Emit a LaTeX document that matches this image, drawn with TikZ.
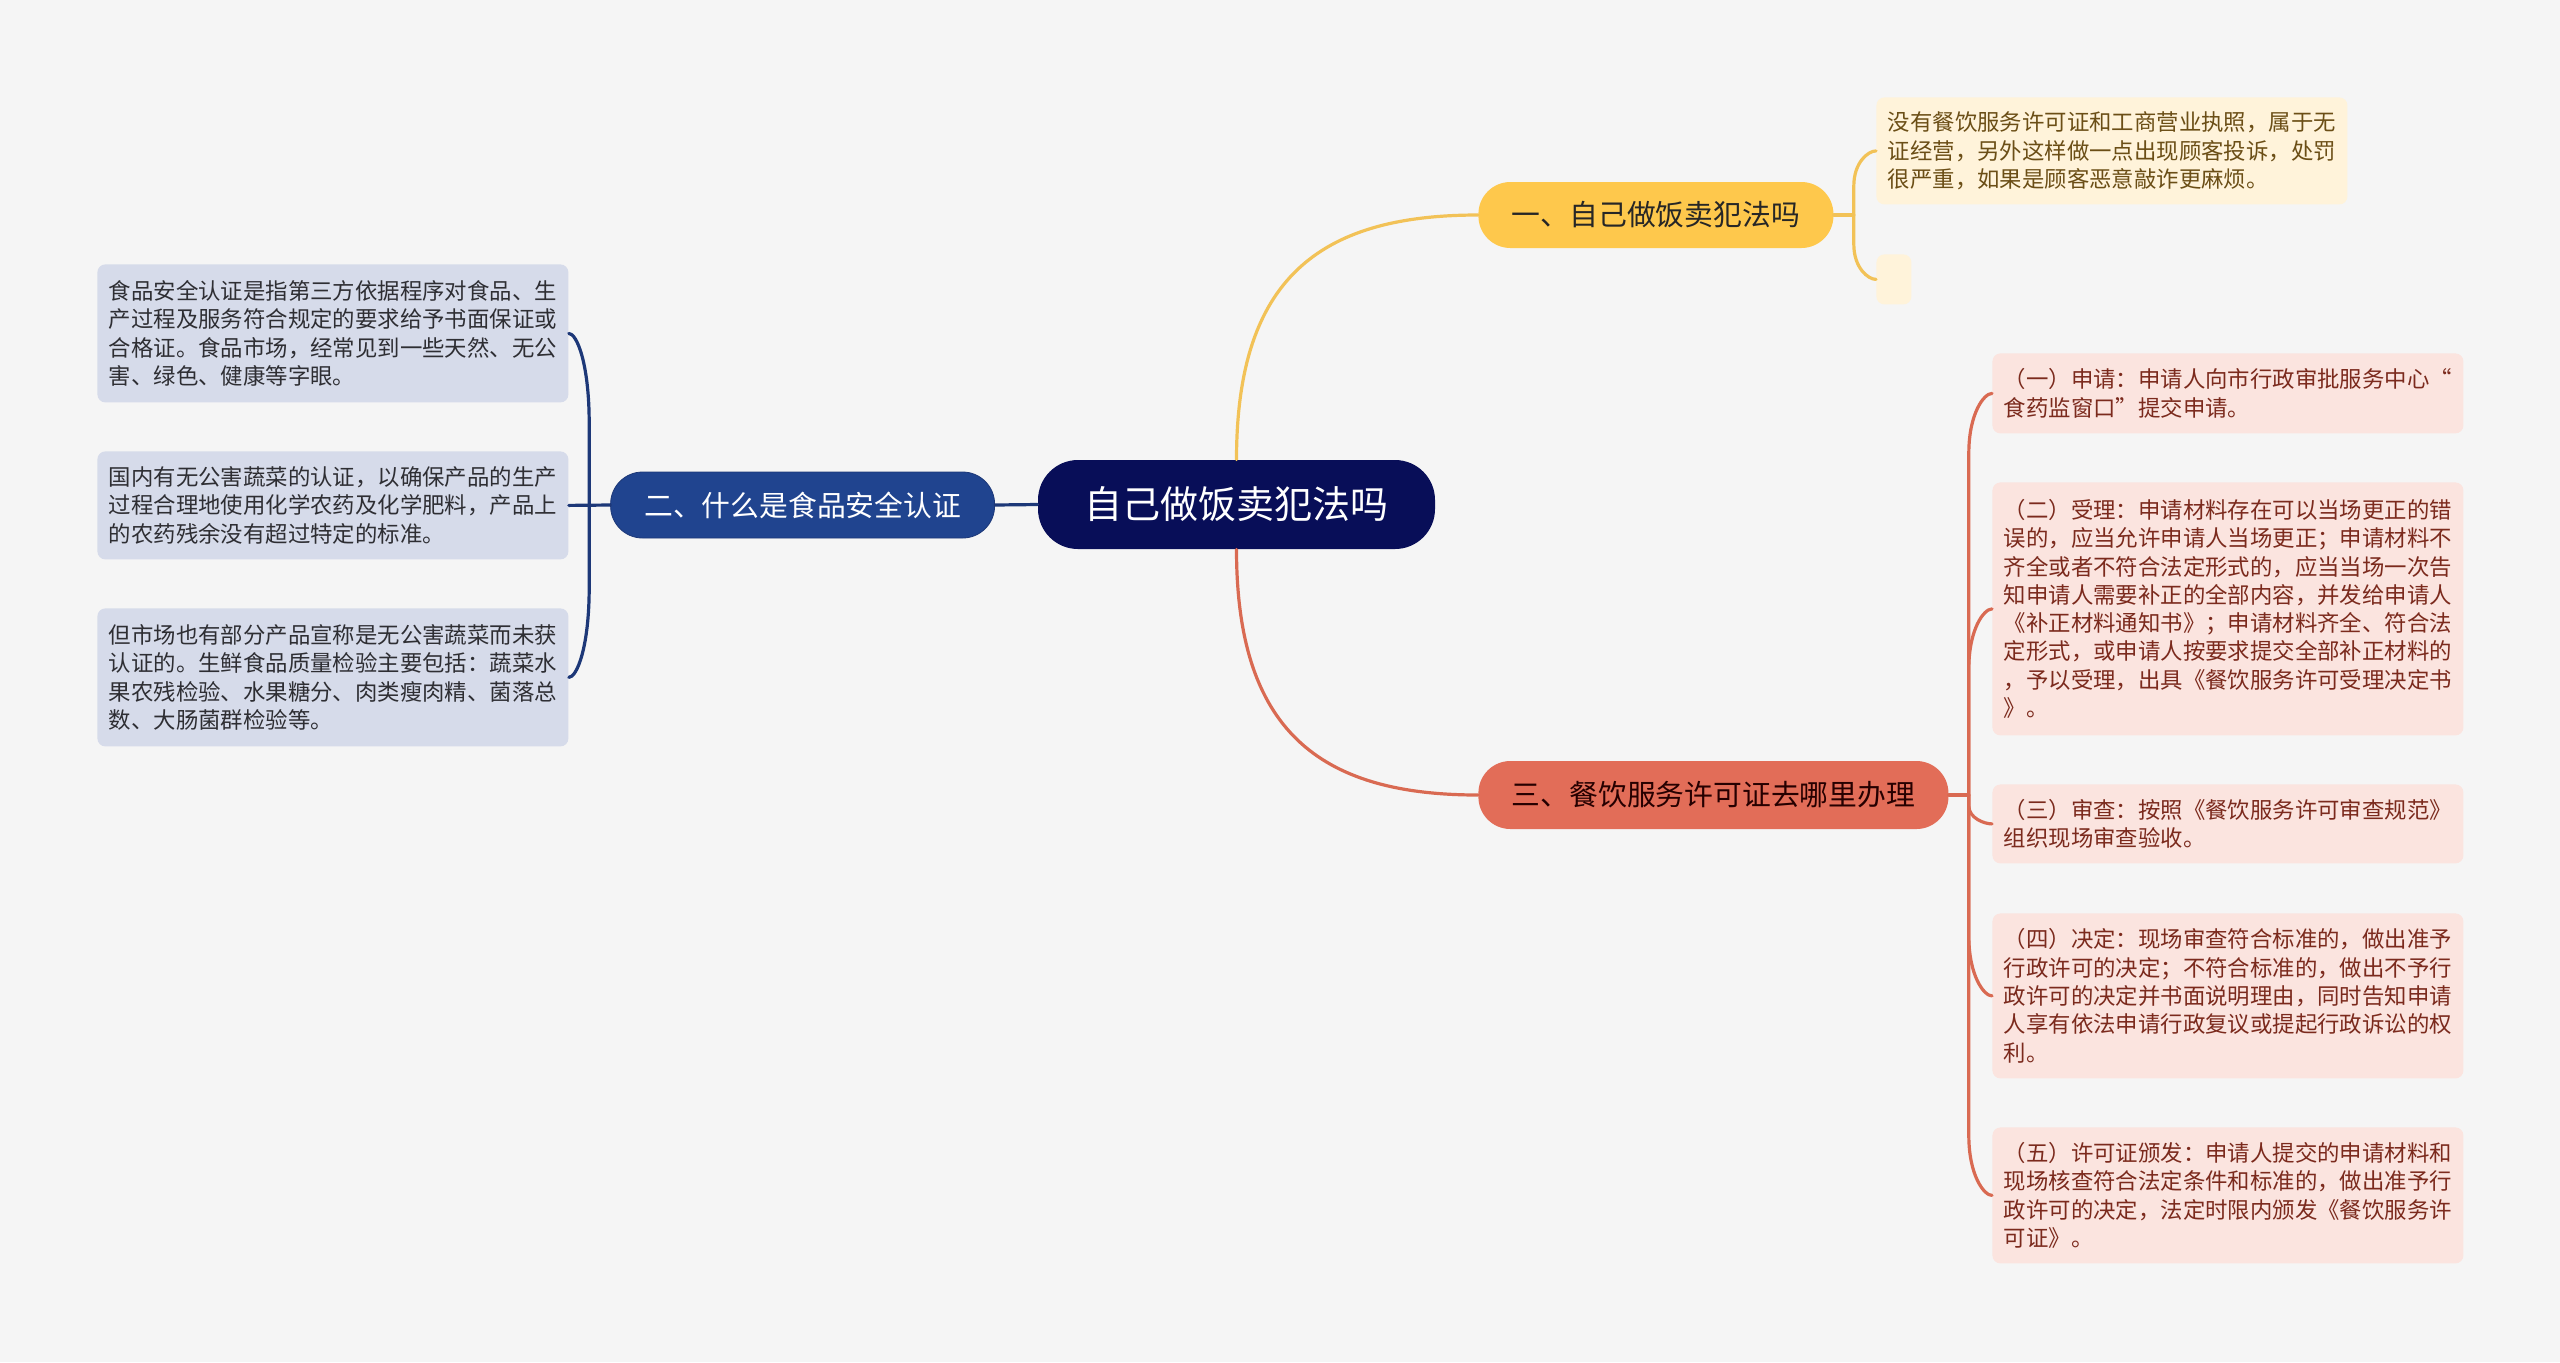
\documentclass[tikz,border=0pt]{standalone}
\usepackage{fontspec}
\newfontfamily\cjkfont{Noto Sans CJK SC}
\usepackage{tikz}
\usetikzlibrary{positioning, calc}
\usepackage{xcolor}
\definecolor{bgcol}{HTML}{F5F5F5}
\definecolor{rootcol}{HTML}{080E58}
\definecolor{ybranch}{HTML}{FEC84C}
\definecolor{yline}{HTML}{F2C257}
\definecolor{yleaf}{HTML}{FFF3DA}
\definecolor{ytext}{HTML}{6B4E16}
\definecolor{bbranch}{HTML}{20448F}
\definecolor{bline}{HTML}{1D3878}
\definecolor{bleaf}{HTML}{D6DBEA}
\definecolor{btext}{HTML}{2E2E33}
\definecolor{rbranch}{HTML}{E26D58}
\definecolor{rline}{HTML}{D96A52}
\definecolor{rleaf}{HTML}{FBE4DF}
\definecolor{rtext}{HTML}{7B2A1D}
\tikzset{
  topic/.style={
    rectangle, rounded corners=20pt, fill=rootcol, text=white,
    minimum width=198.5pt, minimum height=44.5pt, inner sep=0pt,
    font=\cjkfont\fontsize{19}{22}\selectfont
  },
  branch/.style={
    rectangle, rounded corners=16pt, inner sep=0pt,
    minimum height=33pt, anchor=west,
    font=\cjkfont\fontsize{14.4}{17}\selectfont
  },
  leaf/.style={
    rectangle, rounded corners=4pt, inner xsep=5.5pt, inner ysep=0pt,
    text width=224pt, align=left, minimum width=235.5pt,
    anchor=north west,
    font=\cjkfont\fontsize{11.2}{14.15}\selectfont
  },
  link/.style={line width=1.6pt, line cap=round}
}

\begin{document}
\begin{tikzpicture}[x=0.5pt, y=-0.5pt]
  \fill[bgcol] (0,0) rectangle (2560,1362);

  \node[topic] (root) at (1236.5,504.5) {自己做饭卖犯法吗};

  % branches
  \node[branch, fill=ybranch, text=black!85, minimum width=177.5pt]
    (b1) at (1478,215) {一、自己做饭卖犯法吗};
  \node[branch, fill=bbranch, draw=bline, text=white, minimum width=192pt,
    anchor=east]
    (b2) at (995,505) {二、什么是食品安全认证};
  \node[branch, fill=rbranch, text=black!85!red, minimum width=235pt, minimum height=34pt]
    (b3) at (1478,795) {三、餐饮服务许可证去哪里办理};

  % leaves of branch one
  \node[leaf, fill=yleaf, text=ytext, minimum height=53.5pt] (y1) at (1876,97)
    {没有餐饮服务许可证和工商营业执照，属于无\\证经营，另外这样做一点出现顾客投诉，处罚\\很严重，如果是顾客恶意敲诈更麻烦。};
  \node[rectangle, rounded corners=4pt, fill=yleaf, minimum width=17.5pt,
    minimum height=25pt, inner sep=0pt, anchor=north west] (y2) at (1876,254) {};

  % leaves of branch two
  \node[leaf, fill=bleaf, text=btext, minimum height=69pt] (l1) at (97,264)
    {食品安全认证是指第三方依据程序对食品、生\\产过程及服务符合规定的要求给予书面保证或\\合格证。食品市场，经常见到一些天然、无公\\害、绿色、健康等字眼。};
  \node[leaf, fill=bleaf, text=btext, minimum height=54pt] (l2) at (97,451)
    {国内有无公害蔬菜的认证，以确保产品的生产\\过程合理地使用化学农药及化学肥料，产品上\\的农药残余没有超过特定的标准。};
  \node[leaf, fill=bleaf, text=btext, minimum height=69pt] (l3) at (97,608)
    {但市场也有部分产品宣称是无公害蔬菜而未获\\认证的。生鲜食品质量检验主要包括：蔬菜水\\果农残检验、水果糖分、肉类瘦肉精、菌落总\\数、大肠菌群检验等。};

  % leaves of branch three
  \node[leaf, fill=rleaf, text=rtext, minimum height=40pt] (r1) at (1992,353)
    {（一）申请：申请人向市行政审批服务中心“\\食药监窗口”提交申请。};
  \node[leaf, fill=rleaf, text=rtext, minimum height=126.5pt] (r2) at (1992,482)
    {（二）受理：申请材料存在可以当场更正的错\\误的，应当允许申请人当场更正；申请材料不\\齐全或者不符合法定形式的，应当当场一次告\\知申请人需要补正的全部内容，并发给申请人\\《补正材料通知书》；申请材料齐全、符合法\\定形式，或申请人按要求提交全部补正材料的\\，予以受理，出具《餐饮服务许可受理决定书\\》。};
  \node[leaf, fill=rleaf, text=rtext, minimum height=39.5pt] (r3) at (1992,784)
    {（三）审查：按照《餐饮服务许可审查规范》\\组织现场审查验收。};
  \node[leaf, fill=rleaf, text=rtext, minimum height=82.5pt] (r4) at (1992,913)
    {（四）决定：现场审查符合标准的，做出准予\\行政许可的决定；不符合标准的，做出不予行\\政许可的决定并书面说明理由，同时告知申请\\人享有依法申请行政复议或提起行政诉讼的权\\利。};
  \node[leaf, fill=rleaf, text=rtext, minimum height=68pt] (r5) at (1992,1127)
    {（五）许可证颁发：申请人提交的申请材料和\\现场核查符合法定条件和标准的，做出准予行\\政许可的决定，法定时限内颁发《餐饮服务许\\可证》。};

  % root to branches
  \draw[link, yline] (root.north) .. controls ($(root.north)+(0,-180)$)
    and ($(b1.west)+(-160,0)$) .. (b1.west);
  \draw[link, rline] (root.south) .. controls ($(root.south)+(0,180)$)
    and ($(b3.west)+(-160,0)$) .. (b3.west);
  \draw[link, bline] (root.west) -- (b2.east);

  % brackets
  \draw[link, yline] (b1.east) -- ++(20,0) coordinate (yj);
  \foreach \n/\o in {y1/35, y2/-35}
    \draw[link, yline] (yj) -- ($(yj |- \n.west)+(0,\o)$)
      .. controls ($(yj |- \n.west)+(0,\o/3)$) and ($(\n.west)+(-8,0)$) .. (\n.west);

  \draw[link, bline] (b2.west) -- (l2.east);
  \coordinate (lj) at ($(b2.west)+(-21,0)$);
  \foreach \n/\o in {l1/90, l3/-90}
    \draw[link, bline] (lj) -- ($(lj |- \n.east)+(0,\o)$)
      .. controls ($(lj |- \n.east)+(0,\o/3)$) and ($(\n.east)+(8,0)$) .. (\n.east);

  \draw[link, rline] (b3.east) -- ++(20,0) coordinate (rj);
  \foreach \n/\o in {r1/60, r2/60, r3/-18, r4/-60, r5/-60}
    \draw[link, rline] (rj) -- ($(rj |- \n.west)+(0,\o)$)
      .. controls ($(rj |- \n.west)+(0,\o/3)$) and ($(\n.west)+(-8,0)$) .. (\n.west);
\end{tikzpicture}
\end{document}
